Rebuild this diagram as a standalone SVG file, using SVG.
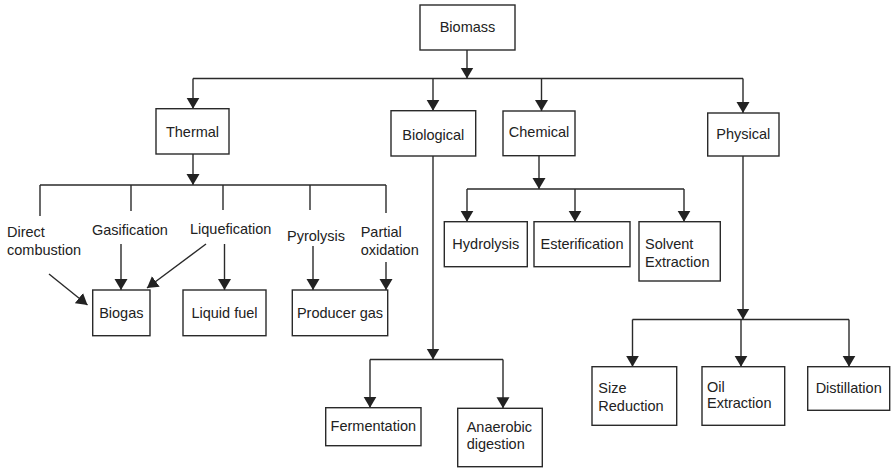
<svg xmlns="http://www.w3.org/2000/svg" width="891" height="468" viewBox="0 0 891 468">
<defs>
<marker id="ah" markerUnits="userSpaceOnUse" markerWidth="12" markerHeight="14" refX="11" refY="6.5" orient="auto" viewBox="0 0 12 13">
<path d="M0,0 L11,6.5 L0,13 z" fill="#222"/>
</marker>
<style>
.box{fill:#fff;stroke:#2a2a2a;stroke-width:1.4}
.t{font-family:"Liberation Sans",Arial,sans-serif;font-size:14.5px;fill:#222}
.c{text-anchor:middle}
.ln{stroke:#2a2a2a;stroke-width:1.4;fill:none}
.ar{stroke:#2a2a2a;stroke-width:1.4;fill:none;marker-end:url(#ah)}
</style>
</defs>
<rect width="891" height="468" fill="#fff"/>
<g id="connectors">
<line class="ar" x1="467" y1="50" x2="467" y2="78.5"/>
<line class="ln" x1="193" y1="78.5" x2="743" y2="78.5"/>
<line class="ar" x1="193" y1="78.5" x2="193" y2="108.7"/>
<line class="ar" x1="433" y1="78.5" x2="433" y2="110.7"/>
<line class="ar" x1="541.5" y1="78.5" x2="541.5" y2="111"/>
<line class="ar" x1="743" y1="78.5" x2="743" y2="113"/>
<line class="ar" x1="193" y1="154" x2="193" y2="185"/>
<line class="ln" x1="40" y1="185" x2="386" y2="185"/>
<line class="ln" x1="40" y1="185" x2="40" y2="216"/>
<line class="ln" x1="131" y1="185" x2="131" y2="211"/>
<line class="ln" x1="223" y1="185" x2="223" y2="210"/>
<line class="ln" x1="310" y1="185" x2="310" y2="210"/>
<line class="ln" x1="386" y1="185" x2="386" y2="213"/>
<line class="ar" x1="49" y1="274" x2="87.5" y2="305"/>
<line class="ar" x1="121" y1="244" x2="121" y2="290"/>
<line class="ar" x1="206" y1="244" x2="147" y2="288"/>
<line class="ar" x1="224.5" y1="244" x2="224.5" y2="290"/>
<line class="ar" x1="313" y1="246" x2="313" y2="290"/>
<line class="ar" x1="386" y1="262" x2="386" y2="290"/>
<line class="ar" x1="433" y1="156" x2="433" y2="359.5"/>
<line class="ln" x1="370" y1="359.5" x2="503" y2="359.5"/>
<line class="ar" x1="370" y1="359.5" x2="370" y2="407.7"/>
<line class="ar" x1="503" y1="359.5" x2="503" y2="408.3"/>
<line class="ar" x1="539" y1="155.7" x2="539" y2="189"/>
<line class="ln" x1="467" y1="189" x2="684" y2="189"/>
<line class="ar" x1="467" y1="189" x2="467" y2="221.7"/>
<line class="ar" x1="575" y1="189" x2="575" y2="221.7"/>
<line class="ar" x1="684" y1="189" x2="684" y2="221.7"/>
<line class="ar" x1="743" y1="156" x2="743" y2="319.5"/>
<line class="ln" x1="632.5" y1="319.5" x2="849" y2="319.5"/>
<line class="ar" x1="632.5" y1="319.5" x2="632.5" y2="366.7"/>
<line class="ar" x1="741" y1="319.5" x2="741" y2="366.7"/>
<line class="ar" x1="849" y1="319.5" x2="849" y2="366.7"/>
</g>
<g id="biomass"><rect class="box" x="420" y="5" width="95" height="45"/><text class="t c" x="467.5" y="32.3">Biomass</text></g>
<g id="thermal"><rect class="box" x="156" y="108.7" width="73" height="45.3"/><text class="t c" x="192.5" y="136.7">Thermal</text></g>
<g id="biological"><rect class="box" x="391" y="110.7" width="84.7" height="45.3"/><text class="t c" x="433.3" y="140">Biological</text></g>
<g id="chemical"><rect class="box" x="503" y="111" width="72" height="44.7"/><text class="t c" x="539" y="137">Chemical</text></g>
<g id="physical"><rect class="box" x="707.7" y="113" width="71.3" height="43"/><text class="t c" x="743.3" y="139">Physical</text></g>
<g id="direct-combustion"><text class="t" x="7" y="237">Direct</text><text class="t" x="7" y="255">combustion</text></g>
<g id="gasification"><text class="t" x="92" y="235">Gasification</text></g>
<g id="liquefication"><text class="t" x="190" y="234">Liquefication</text></g>
<g id="pyrolysis"><text class="t" x="287" y="240.7">Pyrolysis</text></g>
<g id="partial-oxidation"><text class="t" x="360.7" y="237">Partial</text><text class="t" x="360.7" y="255">oxidation</text></g>
<g id="biogas"><rect class="box" x="92.7" y="290" width="57.3" height="45.7"/><text class="t c" x="121.3" y="317.7">Biogas</text></g>
<g id="liquid-fuel"><rect class="box" x="183" y="290" width="83" height="45.7"/><text class="t c" x="224.5" y="317.7">Liquid fuel</text></g>
<g id="producer-gas"><rect class="box" x="292.3" y="290" width="95.4" height="45.7"/><text class="t c" x="340" y="317.7">Producer gas</text></g>
<g id="hydrolysis"><rect class="box" x="444.3" y="221.7" width="83" height="45"/><text class="t c" x="485.8" y="249">Hydrolysis</text></g>
<g id="esterification"><rect class="box" x="534" y="221.7" width="96" height="45"/><text class="t c" x="582" y="249">Esterification</text></g>
<g id="solvent-extraction"><rect class="box" x="639" y="221.7" width="81.3" height="59.3"/><text class="t" x="645" y="249">Solvent</text><text class="t" x="645" y="266.7">Extraction</text></g>
<g id="fermentation"><rect class="box" x="325.7" y="407.7" width="95.3" height="38"/><text class="t c" x="373.3" y="430.7">Fermentation</text></g>
<g id="anaerobic-digestion"><rect class="box" x="457.7" y="408.3" width="84.6" height="58.4"/><text class="t" x="466.7" y="431.7">Anaerobic</text><text class="t" x="466.7" y="449.3">digestion</text></g>
<g id="size-reduction"><rect class="box" x="592" y="366.7" width="84.7" height="58.6"/><text class="t" x="598.3" y="392.7">Size</text><text class="t" x="598.3" y="410.7">Reduction</text></g>
<g id="oil-extraction"><rect class="box" x="702" y="366.7" width="82.7" height="58.6"/><text class="t" x="707" y="391.7">Oil</text><text class="t" x="707" y="408.3">Extraction</text></g>
<g id="distillation"><rect class="box" x="807.7" y="366.7" width="82" height="43.6"/><text class="t c" x="848.7" y="392.7">Distillation</text></g>
</svg>
